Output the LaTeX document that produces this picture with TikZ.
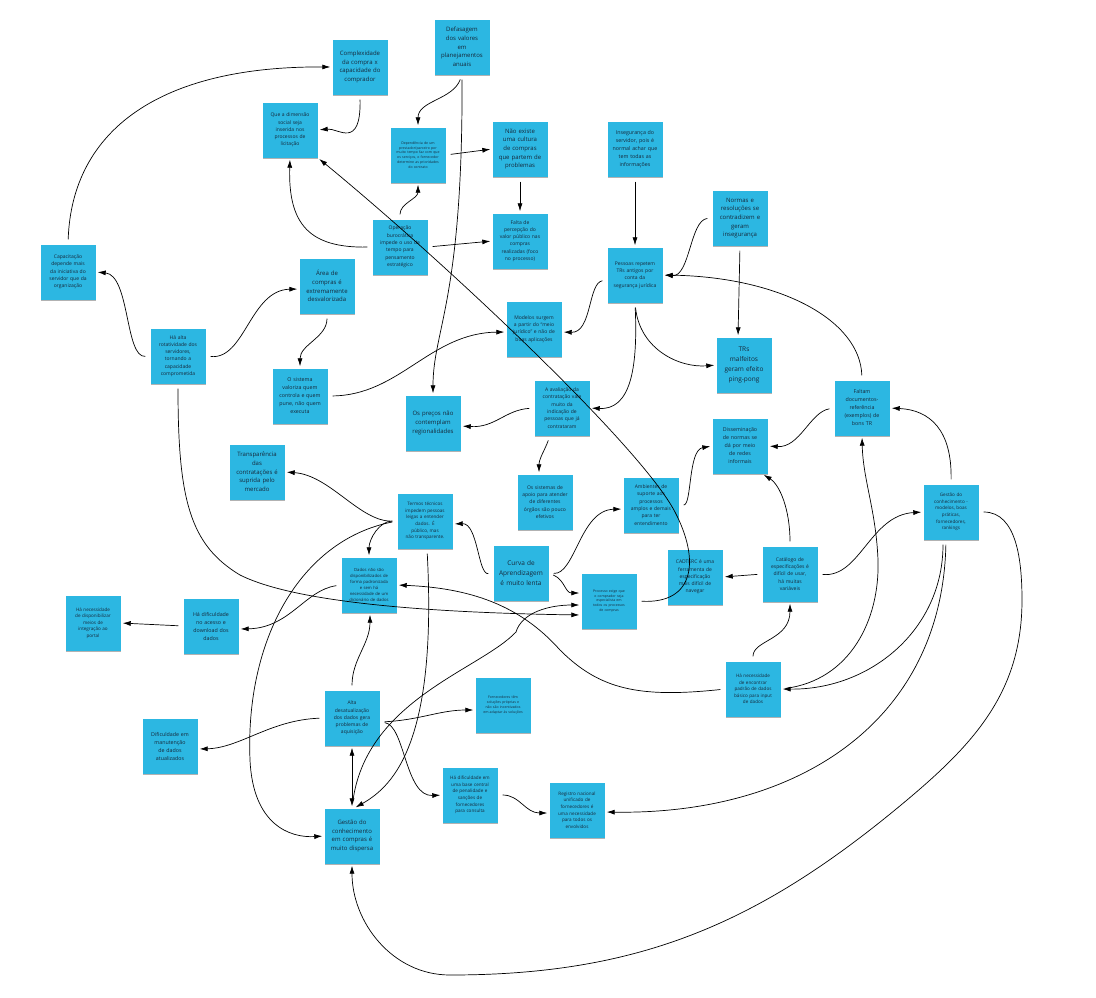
\documentclass[tikz,border=0pt]{standalone}
\usepackage{fontspec}
\setmainfont{Open Sans}
\usetikzlibrary{arrows.meta,shadows}
\definecolor{notec}{RGB}{44,183,226}
\definecolor{notetxt}{RGB}{22,40,58}
\begin{document}
\begin{tikzpicture}[x=1pt,y=1pt,
  note/.style={rectangle, fill=notec, minimum width=55pt, minimum height=55pt, text width=54pt, align=center, inner sep=0pt, text=notetxt,
    drop shadow={shadow xshift=0.6pt, shadow yshift=-1.8pt, opacity=0.3, fill=black}},
  fL/.style={font=\fontsize{6.5}{10}\selectfont},
  fM/.style={font=\fontsize{6}{8.7}\selectfont},
  fSp/.style={font=\fontsize{5.3}{8}\selectfont},
  fS/.style={font=\fontsize{5}{7.3}\selectfont},
  fSm/.style={font=\fontsize{4.6}{6.6}\selectfont},
  fXS/.style={font=\fontsize{4.2}{6}\selectfont},
  fT/.style={font=\fontsize{3.5}{4.8}\selectfont},
  conn/.style={draw=black, line width=0.7pt, -{Latex[length=8pt,width=5pt]}, shorten <=5pt, shorten >=2pt},
  both/.style={draw=black, line width=0.7pt, {Latex[length=8pt,width=5pt]}-{Latex[length=8pt,width=5pt]}, shorten <=2pt, shorten >=2pt}]
\useasboundingbox (0,0) rectangle (1096,-997);
\fill[white] (0,0) rectangle (1096,-997);

% ---- notes ----
\node[note,fM] (cx) at (360,-67) {Complexidade\\da compra x\\capacidade do\\comprador};
\node[note,fM] (def) at (462,-47) {Defasagem\\dos valores\\em\\planejamentos\\anuais};
\node[note,fS] (dim) at (290,-130) {Que a dimensão\\social seja\\inserida nos\\processos de\\licitação};
\node[note,fT] (peq) at (418,-155) {Dependência de um\\prestador/parceiro por\\muito tempo faz com que\\os serviços, o fornecedor\\determine as prioridades\\do contrato};
\node[note,fM] (cult) at (520,-149) {Não existe\\uma cultura\\de compras\\que partem de\\problemas};
\node[note,fSp] (inseg) at (635,-149) {Insegurança do\\servidor, pois é\\normal achar que\\tem todas as\\informações};
\node[note,fS] (oper) at (400,-247) {Operação\\burocrática\\impede o uso de\\tempo para\\pensamento\\estratégico};
\node[note,fS] (perc) at (520,-241) {Falta de\\percepção do\\valor público nas\\compras\\realizadas (foco\\no processo)};
\node[note,fS] (rep) at (635,-275) {Pessoas repetem\\TRs antigos por\\conta da\\segurança jurídica};
\node[note,fM] (norm) at (740,-218) {Normas e\\resoluções se\\contradizem e\\geram\\insegurança};
\node[note,fL] (trs) at (744,-365) {TRs\\malfeitos\\geram efeito\\ping-pong};
\node[note,fS] (capac) at (68,-272) {Capacitação\\depende mais\\da iniciativa do\\servidor que da\\organização};
\node[note,fM] (area) at (327,-286) {Área de\\compras é\\extremamente\\desvalorizada};
\node[note,fS] (rot) at (178,-356) {Há alta\\rotatividade dos\\servidores,\\tornando a\\capacidade\\comprometida};
\node[note,fSp] (sist) at (300,-396) {O sistema\\valoriza quem\\controla e quem\\pune, não quem\\executa};
\node[note,fS] (mod) at (534,-329) {Modelos surgem\\a partir do “meio\\jurídico” e não de\\boas aplicações};
\node[note,fM] (prec) at (433,-423) {Os preços não\\contemplam\\regionalidades};
\node[note,fS] (aval) at (562,-408) {A avaliação da\\contratação vale\\muito da\\indicação de\\pessoas que já\\contrataram};
\node[note,fS] (apoio) at (545,-502) {Os sistemas de\\apoio para atender\\de diferentes\\órgãos são pouco\\efetivos};
\node[note,fSp] (diss) at (740,-446) {Disseminação\\de normas se\\dá por meio\\de redes\\informais};
\node[note,fSp] (falt) at (862,-408) {Faltam\\documentos-\\referência\\(exemplos) de\\bons TR};
\node[note,fSm] (gconh) at (951,-512) {Gestão do\\conhecimento -\\modelos, boas\\práticas,\\fornecedores,\\rankings};
\node[note,fS] (catal) at (790,-574) {Catálogo de\\especificações é\\difícil de usar,\\há muitas\\variáveis};
\node[note,fM] (transp) at (257,-472) {Transparência\\das\\contratações é\\suprida pelo\\mercado};
\node[note,fSm] (termos) at (425,-521) {Termos técnicos\\impedem pessoas\\leigas a entender\\dados. É\\público, mas\\não transparente.};
\node[note,fXS] (dados) at (369,-585) {Dados não são\\disponibilizados de\\forma padronizada\\e sem há\\necessidade de um\\dicionário de dados};
\node[note,fL] (curva) at (521,-573) {Curva de\\Aprendizagem\\é muito lenta};
\node[note,fS] (amb) at (651,-505) {Ambientes de\\suporte aos\\processos\\amplos e demais\\para ter\\entendimento};
\node[note,fT] (proc) at (609,-601) {Processo exige que\\o comprador seja\\especialista em\\todos os processos\\de compras};
\node[note,fS] (cadt) at (695,-577) {CADTERC é uma\\ferramenta de\\especificação\\mais difícil de\\navegar};
\node[note,fSp] (acesso) at (211,-626) {Há dificuldade\\no acesso e\\download dos\\dados};
\node[note,fSm] (portal) at (93,-623) {Há necessidade\\de disponibilizar\\meios de\\integração ao\\portal};
\node[note,fSp] (manut) at (170,-746) {Dificuldade em\\manutenção\\de dados\\atualizados};
\node[note,fS] (desat) at (352,-718) {Alta\\desatualização\\dos dados gera\\problemas de\\aquisição};
\node[note,fT] (forn) at (503,-705) {Fornecedores têm\\soluções próprias e\\não são incentivados\\em adaptar às soluções};
\node[note,fSm] (base) at (470,-795) {Há dificuldade em\\uma base central\\de penalidade e\\sanções de\\fornecedores\\para consulta};
\node[note,fSm] (regis) at (577,-810) {Registro nacional\\unificado de\\fornecedores é\\uma necessidade\\para todos os\\envolvidos};
\node[note,fM] (gdisp) at (352,-836) {Gestão do\\conhecimento\\em compras é\\muito dispersa};
\node[note,fSm] (padrao) at (753,-689) {Há necessidade\\de encontrar\\padrão de dados\\básico para input\\de dados};

% ---- connectors ----
\draw[conn] (capac.north) .. controls (72,-130) and (160,-66) .. (cx.west);
\draw[conn] (cx.south) .. controls (361,-150) and (338,-128) .. (dim.east);
\draw[conn] (oper.west) .. controls (310,-248) and (288,-225) .. (dim.south);
\draw[conn] (proc.east) .. controls (695,-604) and (700,-560) .. (675,-512) .. controls (640,-445) and (440,-258) .. (dim.south east);
\draw[conn] (oper.north) to[out=90,in=-90] (peq.south);
\draw[conn] (oper.east) -- (perc.west);
\draw[conn] (peq.east) -- (cult.west);
\draw[conn] (cult.south) -- (perc.north);
\draw[conn] (def.south) to[out=-110,in=90] (peq.north);
\draw[conn] (def.south) .. controls (463,-300) and (433,-330) .. (prec.north);
\draw[conn] (inseg.south) -- (rep.north);
\draw[conn] (norm.west) .. controls (690,-220) and (690,-277) .. (rep.east);
\draw[conn] (norm.south) -- ([xshift=-6pt]trs.north);
\draw[conn] (falt.north) .. controls (860,-320) and (780,-277) .. (rep.east);
\draw[conn] ([yshift=-5pt]rep.west) .. controls (588,-283) and (592,-333) .. ([yshift=-3pt]mod.east);
\draw[conn] (rep.south) .. controls (638,-370) and (630,-410) .. (aval.east);
\draw[conn] (rep.south) .. controls (640,-350) and (680,-368) .. (trs.west);
\draw[conn] (sist.east) .. controls (400,-395) and (430,-333) .. ([yshift=-3pt]mod.west);
\draw[conn] (area.south) to[out=-90,in=90] (sist.north);
\draw[conn] (rot.west) .. controls (125,-358) and (130,-275) .. (capac.east);
\draw[conn] (rot.east) .. controls (245,-360) and (250,-290) .. ([yshift=-3pt]area.west);
\draw[conn] (rot.south) .. controls (178,-500) and (190,-545) .. (240,-575) .. controls (300,-605) and (450,-613) .. ([yshift=-14pt]proc.west);
\draw[conn] (aval.west) .. controls (505,-410) and (495,-428) .. ([yshift=-3pt]prec.east);
\draw[conn] ([xshift=-12pt]aval.south) to[out=-110,in=90] ([xshift=-6pt]apoio.north);
\draw[conn] (falt.west) .. controls (810,-412) and (800,-448) .. (diss.east);
\draw[conn] (gconh.north) .. controls (952,-430) and (930,-410) .. (falt.east);
\draw[conn] (catal.north) .. controls (790,-510) and (780,-485) .. ([xshift=22pt]diss.south);
\draw[conn] (catal.east) .. controls (860,-578) and (870,-515) .. (gconh.west);
\draw[conn] (catal.west) -- (cadt.east);
\draw[conn] (padrao.east) .. controls (850,-680) and (880,-620) .. (878,-560) .. controls (876,-510) and (863,-480) .. (falt.south);
\draw[conn] ([xshift=-8pt]gconh.south) .. controls (943,-630) and (870,-690) .. (padrao.east);
\draw[conn] ([xshift=-5pt]gconh.south) .. controls (942,-720) and (800,-815) .. ([yshift=-2pt]regis.east);
\draw[conn] (gconh.east) to[out=0,in=90] (1022,-600) to[out=-90,in=40] (907,-800) to[out=-140,in=0] (450,-975) to[out=180,in=-90] (gdisp.south);
\draw[conn] (padrao.west) .. controls (640,-698) and (600,-690) .. (560,-650) .. controls (520,-605) and (470,-588) .. (dados.east);
\draw[conn] (dados.west) .. controls (305,-590) and (290,-628) .. ([yshift=-3pt]acesso.east);
\draw[conn] (acesso.west) -- (portal.east);
\draw[conn] (termos.west) .. controls (360,-522) and (330,-475) .. (transp.east);
\draw[conn] (termos.west) to[out=180,in=90] (dados.north);
\draw[conn] (termos.west) .. controls (300,-540) and (245,-640) .. (250,-760) .. controls (253,-825) and (290,-838) .. (gdisp.west);
\draw[conn] (curva.west) .. controls (478,-575) and (478,-523) .. ([yshift=-3pt]termos.east);
\draw[conn] (curva.east) .. controls (575,-575) and (580,-510) .. ([yshift=-4pt]amb.west);
\draw[conn] (curva.east) .. controls (565,-580) and (565,-593) .. ([yshift=8pt]proc.west);
\draw[conn] (gdisp.north) .. controls (365,-700) and (480,-670) .. (516,-632) .. controls (522,-612) and (550,-605) .. ([yshift=-4pt]proc.west);
\draw[conn] ([xshift=2pt]termos.south) .. controls (437,-740) and (395,-785) .. ([xshift=2pt]gdisp.north);
\draw[conn] (desat.north) to[out=90,in=-90] ([xshift=1pt]dados.south);
\draw[both] (desat.south) -- (gdisp.north);
\draw[conn] (desat.west) .. controls (270,-720) and (240,-748) .. ([yshift=-3pt]manut.east);
\draw[conn] ([yshift=-4pt]desat.east) .. controls (420,-720) and (440,-710) .. ([yshift=-5pt]forn.west);
\draw[conn] ([yshift=-4pt]desat.east) .. controls (405,-725) and (405,-797) .. (base.west);
\draw[conn] (base.east) .. controls (520,-795) and (525,-813) .. ([yshift=-3pt]regis.west);
\draw[conn] (amb.east) .. controls (692,-505) and (688,-450) .. (diss.west);
\draw[conn] (padrao.north) .. controls (753,-640) and (790,-640) .. (catal.south);
\end{tikzpicture}
\end{document}
